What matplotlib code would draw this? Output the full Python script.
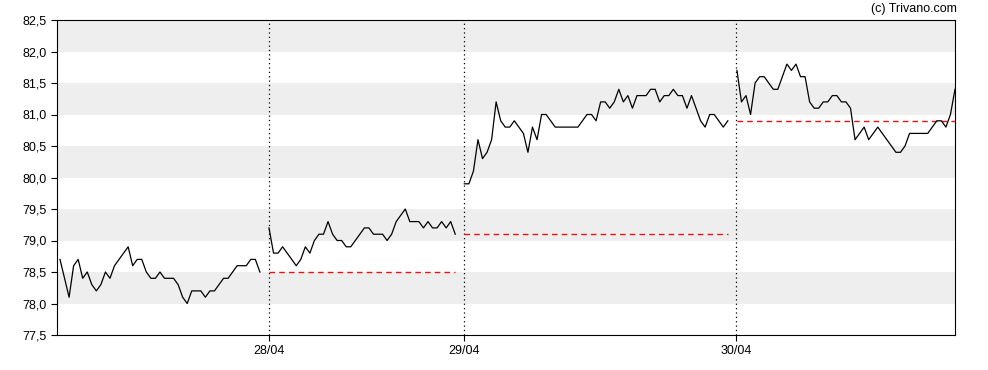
import matplotlib
matplotlib.use("Agg")
from matplotlib import pyplot as plt

plt.rcParams["font.family"] = ["Liberation Sans Narrow", "Liberation Sans", "DejaVu Sans"]

day_labels = ["27/04", "28/04", "29/04", "30/04"]

day1 = [78.7, 78.4, 78.1, 78.6, 78.7, 78.4, 78.5, 78.3, 78.2, 78.3, 78.5, 78.4,
        78.6, 78.7, 78.8, 78.9, 78.6, 78.7, 78.7, 78.5, 78.4, 78.4, 78.5, 78.4,
        78.4, 78.4, 78.3, 78.1, 78.0, 78.2, 78.2, 78.2, 78.1, 78.2, 78.2, 78.3,
        78.4, 78.4, 78.5, 78.6, 78.6, 78.6, 78.7, 78.7, 78.5]
day2 = [79.2, 78.8, 78.8, 78.9, 78.8, 78.7, 78.6, 78.7, 78.9, 78.8, 79.0, 79.1,
        79.1, 79.3, 79.1, 79.0, 79.0, 78.9, 78.9, 79.0, 79.1, 79.2, 79.2, 79.1,
        79.1, 79.1, 79.0, 79.1, 79.3, 79.4, 79.5, 79.3, 79.3, 79.3, 79.2, 79.3,
        79.2, 79.2, 79.3, 79.2, 79.3, 79.1]
day3 = [79.9, 79.9, 80.1, 80.6, 80.3, 80.4, 80.6, 81.2, 80.9, 80.8, 80.8, 80.9,
        80.8, 80.7, 80.4, 80.8, 80.6, 81.0, 81.0, 80.9, 80.8, 80.8, 80.8, 80.8,
        80.8, 80.8, 80.9, 81.0, 81.0, 80.9, 81.2, 81.2, 81.1, 81.2, 81.4, 81.2,
        81.3, 81.1, 81.3, 81.3, 81.3, 81.4, 81.4, 81.2, 81.3, 81.3, 81.4, 81.3,
        81.3, 81.1, 81.3, 81.1, 80.9, 80.8, 81.0, 81.0, 80.9, 80.8, 80.9]
day4 = [81.7, 81.2, 81.3, 81.0, 81.5, 81.6, 81.6, 81.5, 81.4, 81.4, 81.6, 81.8,
        81.7, 81.8, 81.6, 81.6, 81.2, 81.1, 81.1, 81.2, 81.2, 81.3, 81.3, 81.2,
        81.2, 81.1, 80.6, 80.7, 80.8, 80.6, 80.7, 80.8, 80.7, 80.6, 80.5, 80.4,
        80.4, 80.5, 80.7, 80.7, 80.7, 80.7, 80.7, 80.8, 80.9, 80.9, 80.8, 81.0,
        81.4]
days = [day1, day2, day3, day4]

y_ticks = [77.5 + 0.5 * i for i in range(11)]

fig = plt.figure(figsize=(9.88, 3.70), dpi=100)
ax = fig.add_axes([57 / 988, 35 / 370, 898 / 988, 315 / 370])

# alternating background bands
for i in range(len(y_ticks) - 1):
    if i % 2 == 1:
        ax.axhspan(y_ticks[i], y_ticks[i + 1], color="#eeeeee", lw=0, zorder=0)

start = 0
starts = []
prev_close = None
for vals in days:
    xs = list(range(start, start + len(vals)))
    starts.append(start)
    ax.plot(xs, vals, color="black", lw=0.9, zorder=3)
    if prev_close is not None:
        ax.plot([xs[0], xs[-1]], [prev_close, prev_close], color="#ee1111",
                lw=1.0, dashes=(4, 3), zorder=2)
        ax.axvline(xs[0] - 0.1, color="black", lw=0.9, ls=(0, (1, 2.5)), zorder=1)
    prev_close = vals[-1]
    start = xs[-1] + 2

ax.set_xlim(-0.66, start - 2)
ax.set_ylim(77.5, 82.5)
ax.set_yticks(y_ticks)
ax.set_yticklabels([f"{v:.1f}".replace(".", ",") for v in y_ticks])
ax.set_xticks([s - 0.1 for s in starts[1:]])
ax.set_xticklabels(day_labels[1:])
ax.tick_params(axis="both", labelsize=9, length=4, width=0.8, color="black")
ax.tick_params(axis="x", pad=3)
for sp in ax.spines.values():
    sp.set_color("black")
    sp.set_linewidth(0.8)

fig.text(957 / 988, 1 - 9 / 370, "(c) Trivano.com", ha="right", va="center", fontsize=9)

plt.savefig("out.png", dpi=100)
